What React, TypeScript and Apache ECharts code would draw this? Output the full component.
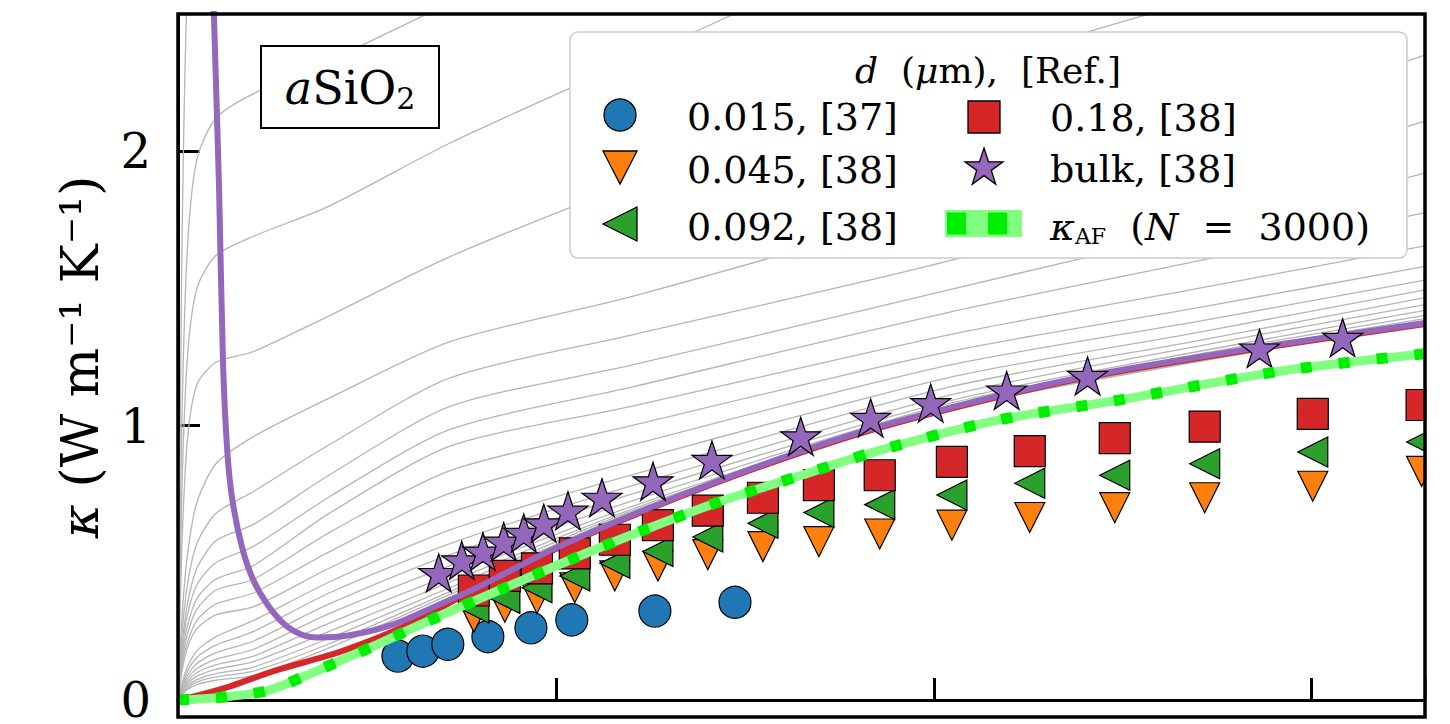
import React, { useEffect, useRef } from 'react';
import * as echarts from 'echarts';

// ---------- data ----------
const grayT = [0, 1, 2.5, 5, 10, 20, 40, 72, 120, 204, 270, 330];
const grayCurves = [
  [0, 1.6, 2.6, 3.0, 3.15, 3.25, 3.4, 3.65, 4.0, 4.5, 4.9, 5.2],
  [0, 1.0, 1.65, 1.97, 2.12, 2.21, 2.33, 2.54, 2.85, 3.4, 3.8, 4.1],
  [0, 0.75, 1.25, 1.5, 1.62, 1.69, 1.8, 2.03, 2.33, 2.85, 3.2, 3.5],
  [0, 0.55, 0.95, 1.15, 1.23, 1.27, 1.4, 1.616, 1.88, 2.28, 2.55, 2.75],
  [0, 0.29, 0.53, 0.72, 0.86, 0.96, 1.1, 1.306, 1.47, 1.8, 2.08, 2.35],
  [0, 0.23, 0.42, 0.57, 0.68, 0.76, 0.93, 1.174, 1.33, 1.6, 1.86, 2.11],
  [0, 0.19, 0.35, 0.48, 0.58, 0.64, 0.82, 1.07, 1.22, 1.495, 1.71, 1.92],
  [0, 0.17, 0.31, 0.42, 0.5, 0.56, 0.74, 0.986, 1.14, 1.413, 1.6, 1.776],
  [0, 0.15, 0.27, 0.37, 0.44, 0.49, 0.68, 0.925, 1.07, 1.331, 1.5, 1.655],
  [0, 0.13, 0.24, 0.33, 0.4, 0.44, 0.61, 0.836, 1.0, 1.27, 1.43, 1.58],
  [0, 0.12, 0.21, 0.29, 0.35, 0.39, 0.54, 0.754, 0.93, 1.22, 1.38, 1.53],
  [0, 0.1, 0.19, 0.26, 0.31, 0.34, 0.48, 0.683, 0.87, 1.175, 1.34, 1.495],
  [0, 0.06, 0.12, 0.18, 0.23, 0.29, 0.43, 0.62, 0.82, 1.14, 1.31, 1.466],
  [0, 0.05, 0.105, 0.155, 0.2, 0.25, 0.39, 0.57, 0.78, 1.11, 1.29, 1.441],
  [0, 0.043, 0.09, 0.133, 0.172, 0.215, 0.35, 0.53, 0.75, 1.09, 1.27, 1.42],
  [0, 0.037, 0.078, 0.115, 0.148, 0.185, 0.315, 0.49, 0.725, 1.08, 1.26, 1.402],
  [0, 0.032, 0.067, 0.1, 0.128, 0.16, 0.28, 0.455, 0.705, 1.072, 1.25, 1.39],
  [0, 0.028, 0.059, 0.087, 0.112, 0.14, 0.25, 0.43, 0.695, 1.067, 1.245, 1.382],
  [0, 0.024, 0.05, 0.074, 0.096, 0.12, 0.225, 0.41, 0.688, 1.064, 1.24, 1.378],
  [0, 0.021, 0.044, 0.065, 0.084, 0.105, 0.205, 0.395, 0.683, 1.061, 1.236, 1.376],
  [0, 0.018, 0.038, 0.056, 0.072, 0.09, 0.19, 0.385, 0.68, 1.058, 1.233, 1.374],
];

const purpleT = [9.0, 9.5, 10.85, 11.9, 13.0, 14.3, 16.9, 19.8, 23.8, 28.3, 32.8, 37, 45, 56.6, 69.8, 78.6, 99.7, 126.2, 154, 183, 217.5, 244, 286, 330];
const purpleK = [2.8, 2.5, 1.875, 1.235, 0.915, 0.737, 0.559, 0.441, 0.345, 0.274, 0.238, 0.228, 0.235, 0.274, 0.352, 0.406, 0.552, 0.708, 0.854, 0.986, 1.11, 1.189, 1.285, 1.374];

const redT = [0, 4.5, 13.8, 25.7, 43.4, 60.8, 78.6, 99.7, 126.2, 154, 183, 217.5, 244, 286, 330];
const redK = [0, 0.014, 0.05, 0.107, 0.178, 0.274, 0.404, 0.548, 0.704, 0.85, 0.982, 1.106, 1.185, 1.281, 1.37];

const afT = [0, 5, 13, 24, 34, 44, 54, 64, 74, 85, 104, 124, 144, 165, 185, 217, 249, 292, 330];
const afK = [0, 0.003, 0.012, 0.035, 0.09, 0.15, 0.21, 0.274, 0.335, 0.4, 0.512, 0.623, 0.726, 0.819, 0.907, 1.02, 1.093, 1.199, 1.262];

const circleT = [58.2, 64.8, 71.4, 82.0, 93.4, 104.2, 126.2, 147.4];
const circleK = [0.16, 0.178, 0.203, 0.231, 0.263, 0.292, 0.324, 0.356];

const filmT = [78.3, 86.5, 95.0, 105.0, 115.6, 127.0, 140.2, 154.8, 169.6, 185.7, 204.8, 225.4, 247.9, 271.7, 300.3, 329.1];
const squareK = [0.399, 0.452, 0.48, 0.534, 0.584, 0.637, 0.69, 0.737, 0.783, 0.819, 0.868, 0.907, 0.954, 0.996, 1.043, 1.075];
const triLeftK = [0.335, 0.37, 0.409, 0.452, 0.498, 0.541, 0.594, 0.644, 0.683, 0.712, 0.747, 0.79, 0.819, 0.861, 0.904, 0.94];
const triDownK = [0.302, 0.338, 0.37, 0.409, 0.452, 0.488, 0.53, 0.559, 0.577, 0.605, 0.637, 0.665, 0.701, 0.737, 0.779, 0.833];

const starT = [69.0, 75.1, 80.7, 86.2, 91.5, 96.8, 103.2, 112.2, 125.7, 141.3, 164.8, 183.3, 199.2, 219.3, 240.7, 286.2, 308.2];
const starK = [0.463, 0.509, 0.541, 0.577, 0.609, 0.644, 0.69, 0.737, 0.797, 0.875, 0.961, 1.028, 1.082, 1.128, 1.181, 1.281, 1.32];

const yTicks = [0, 1, 2];
const legendLabels = ['0.015, [37]', '0.045, [38]', '0.092, [38]', '0.18, [38]', 'bulk, [38]'];

// ---------- helpers ----------
const zip = (xs: number[], ys: number[]) => xs.map((x, i) => [x, ys[i]]);
const STAR = 'path://M0,-10L2.245,-3.09L9.51,-3.09L3.633,1.18L5.88,8.09L0,3.82L-5.88,8.09L-3.633,1.18L-9.51,-3.09L-2.245,-3.09Z';
const SERIF = 'DejaVu Serif';
const C = { blue: '#1f77b4', orange: '#ff7f0e', green: '#2ca02c', red: '#d62728', purple: '#9467bd' };

function starPoints(cx: number, cy: number, R: number) {
  const pts: number[][] = [];
  const r = R * 0.382;
  for (let i = 0; i < 10; i++) {
    const a = -Math.PI / 2 + (i * Math.PI) / 5;
    const rr = i % 2 === 0 ? R : r;
    pts.push([cx + rr * Math.cos(a), cy + rr * Math.sin(a)]);
  }
  return pts;
}

function buildOption() {
  const series: any[] = [];
  grayCurves.forEach((vals, i) => {
    series.push({
      type: 'line', name: 'gray' + i, data: zip(grayT, vals), showSymbol: false, symbol: 'none',
      smooth: 0.25, silent: true, z: 1,
      lineStyle: { color: '#b5b5b5', width: 1.3 },
    });
  });
  series.push({
    type: 'line', name: 'red', data: zip(redT, redK), symbol: 'none', smooth: 0.3, z: 2,
    lineStyle: { color: C.red, width: 6 },
  });
  const scatterBase = { type: 'scatter', z: 3, itemStyle: { borderColor: '#000', borderWidth: 1.2, opacity: 1 } };
  series.push({ ...scatterBase, name: legendLabels[0], data: zip(circleT, circleK), symbol: 'circle', symbolSize: 32, itemStyle: { ...scatterBase.itemStyle, color: C.blue } });
  series.push({ ...scatterBase, name: legendLabels[1], data: zip(filmT, triDownK), symbol: 'triangle', symbolRotate: 180, symbolSize: 30, itemStyle: { ...scatterBase.itemStyle, color: C.orange } });
  series.push({ ...scatterBase, name: legendLabels[2], data: zip(filmT, triLeftK), symbol: 'triangle', symbolRotate: 90, symbolSize: 30, itemStyle: { ...scatterBase.itemStyle, color: C.green } });
  series.push({ ...scatterBase, name: legendLabels[3], data: zip(filmT, squareK), symbol: 'rect', symbolSize: 31, itemStyle: { ...scatterBase.itemStyle, color: C.red } });
  series.push({
    type: 'line', name: 'bulk model', data: zip(purpleT, purpleK), symbol: 'none', smooth: 0.3, z: 4,
    lineStyle: { color: C.purple, width: 6 },
  });
  series.push({ ...scatterBase, z: 5, name: legendLabels[4], data: zip(starT, starK), symbol: STAR, symbolSize: [40, 38], itemStyle: { ...scatterBase.itemStyle, color: C.purple } });
  series.push({
    type: 'line', name: 'κAF band', data: zip(afT, afK), symbol: 'none', smooth: 0.3, z: 6,
    lineStyle: { color: '#80ff80', width: 9 },
  });
  series.push({
    type: 'line', name: 'κAF (N = 3000)', data: zip(afT, afK), symbol: 'none', smooth: 0.3, z: 7,
    lineStyle: { color: '#00ee00', width: 11, type: [11, 27], cap: 'butt' },
  });

  const txt = (text: string, x: number, y: number, extra: any = {}) => ({
    type: 'text', x, y, z: 102,
    style: { text, fill: '#000', fontFamily: SERIF, fontSize: 38, align: 'left', verticalAlign: 'middle', ...extra },
  });

  const graphic: any[] = [
    { type: 'rect', shape: { x: 1426.5, y: 0, width: 30, height: 724 }, style: { fill: '#fff' }, z: 90, silent: true },
    { type: 'rect', shape: { x: 178, y: 14, width: 1247, height: 703 }, style: { fill: 'none', stroke: '#000', lineWidth: 3.5 }, z: 95, silent: true },
    // aSiO2 label box
    { type: 'rect', shape: { x: 261, y: 46, width: 178, height: 82 }, style: { fill: '#fff', stroke: '#000', lineWidth: 2 }, z: 100 },
    {
      type: 'text', x: 350, y: 88, z: 101,
      style: {
        text: '{a|a}{n|SiO}{s|2}', align: 'center', verticalAlign: 'middle', fill: '#000',
        rich: {
          a: { fontFamily: SERIF, fontSize: 46, fontStyle: 'italic', lineHeight: 50, verticalAlign: 'middle' },
          n: { fontFamily: SERIF, fontSize: 46, lineHeight: 50, verticalAlign: 'middle' },
          s: { fontFamily: SERIF, fontSize: 30, lineHeight: 30, verticalAlign: 'bottom' },
        },
      },
    },
    // legend box
    { type: 'rect', shape: { x: 570, y: 32, width: 837, height: 226, r: 8 }, style: { fill: '#fff', stroke: '#cccccc', lineWidth: 1.5 }, z: 100 },
    {
      type: 'text', x: 988, y: 70, z: 102,
      style: {
        text: '{i|d}{n|  (}{i|μ}{n|m),  [Ref.]}', align: 'center', verticalAlign: 'middle', fill: '#000',
        rich: {
          i: { fontFamily: SERIF, fontSize: 36, fontStyle: 'italic' },
          n: { fontFamily: SERIF, fontSize: 36 },
        },
      },
    },
    { type: 'circle', shape: { cx: 620, cy: 115, r: 16 }, style: { fill: C.blue, stroke: '#000', lineWidth: 1.3 }, z: 102 },
    { type: 'polygon', shape: { points: [[603, 151], [637, 151], [620, 184]] }, style: { fill: C.orange, stroke: '#000', lineWidth: 1.3 }, z: 102 },
    { type: 'polygon', shape: { points: [[603, 224], [637, 207], [637, 241]] }, style: { fill: C.green, stroke: '#000', lineWidth: 1.3 }, z: 102 },
    { type: 'rect', shape: { x: 968, y: 101, width: 32, height: 32 }, style: { fill: C.red, stroke: '#000', lineWidth: 1.3 }, z: 102 },
    { type: 'polygon', shape: { points: starPoints(984, 168, 20) }, style: { fill: C.purple, stroke: '#000', lineWidth: 1.3 }, z: 102 },
    { type: 'rect', shape: { x: 945, y: 210, width: 77, height: 27 }, style: { fill: '#80ff80' }, z: 102 },
    { type: 'rect', shape: { x: 947, y: 212.5, width: 19, height: 22 }, style: { fill: '#00ee00' }, z: 103 },
    { type: 'rect', shape: { x: 988, y: 212.5, width: 19, height: 22 }, style: { fill: '#00ee00' }, z: 103 },
    txt(legendLabels[0], 687, 117),
    txt(legendLabels[1], 687, 170),
    txt(legendLabels[2], 687, 227),
    txt(legendLabels[3], 1050, 118),
    txt(legendLabels[4], 1050, 169),
    {
      type: 'text', x: 1050, y: 227, z: 102,
      style: {
        text: '{k|κ}{s|AF}{n|  (}{i|N}{n|  =  3000)}', align: 'left', verticalAlign: 'middle', fill: '#000',
        rich: {
          k: { fontFamily: SERIF, fontSize: 38, fontStyle: 'italic', lineHeight: 40, verticalAlign: 'middle' },
          s: { fontFamily: SERIF, fontSize: 22, lineHeight: 22, verticalAlign: 'bottom' },
          n: { fontFamily: SERIF, fontSize: 38, lineHeight: 40, verticalAlign: 'middle' },
          i: { fontFamily: SERIF, fontSize: 38, fontStyle: 'italic', lineHeight: 40, verticalAlign: 'middle' },
        },
      },
    },
  ];

  return {
    animation: false,
    backgroundColor: '#fff',
    grid: { left: 178, right: 25, top: 14, bottom: 7, containLabel: false },
    xAxis: {
      type: 'value', min: 0, max: 330, interval: 100,
      axisLine: { show: true, lineStyle: { color: '#000', width: 3 } },
      axisTick: { show: true, inside: true, length: 22, lineStyle: { color: '#000', width: 3 } },
      axisLabel: { show: false },
      splitLine: { show: false },
    },
    yAxis: {
      type: 'value', min: 0, max: 2.5, interval: 1,
      name: '{i|κ} (W m⁻¹ K⁻¹)', nameLocation: 'middle', nameGap: 72, nameRotate: 90,
      nameTextStyle: {
        fontFamily: SERIF, fontSize: 52, color: '#000',
        rich: { i: { fontFamily: SERIF, fontSize: 52, fontStyle: 'italic', color: '#000' } },
      },
      axisLine: { show: true, lineStyle: { color: '#000', width: 3 } },
      axisTick: { show: true, inside: true, length: 22, lineStyle: { color: '#000', width: 3 } },
      axisLabel: {
        show: true, margin: 27, fontFamily: SERIF, fontSize: 48, color: '#000', showMaxLabel: false,
        formatter: (v: number) => (yTicks.includes(v) ? String(v) : ''),
      },
      splitLine: { show: false },
    },
    series,
    graphic,
  };
}

export default function App() {
  const ref = useRef<HTMLDivElement>(null);
  useEffect(() => {
    if (!ref.current) return;
    const chart = echarts.init(ref.current, null, { renderer: 'svg' });
    chart.setOption(buildOption() as any);
    return () => chart.dispose();
  }, []);
  return (
    <div
      ref={ref}
      style={{ position: 'absolute', left: 0, top: 0, width: 1450, height: 724, background: '#fff' }}
    />
  );
}
